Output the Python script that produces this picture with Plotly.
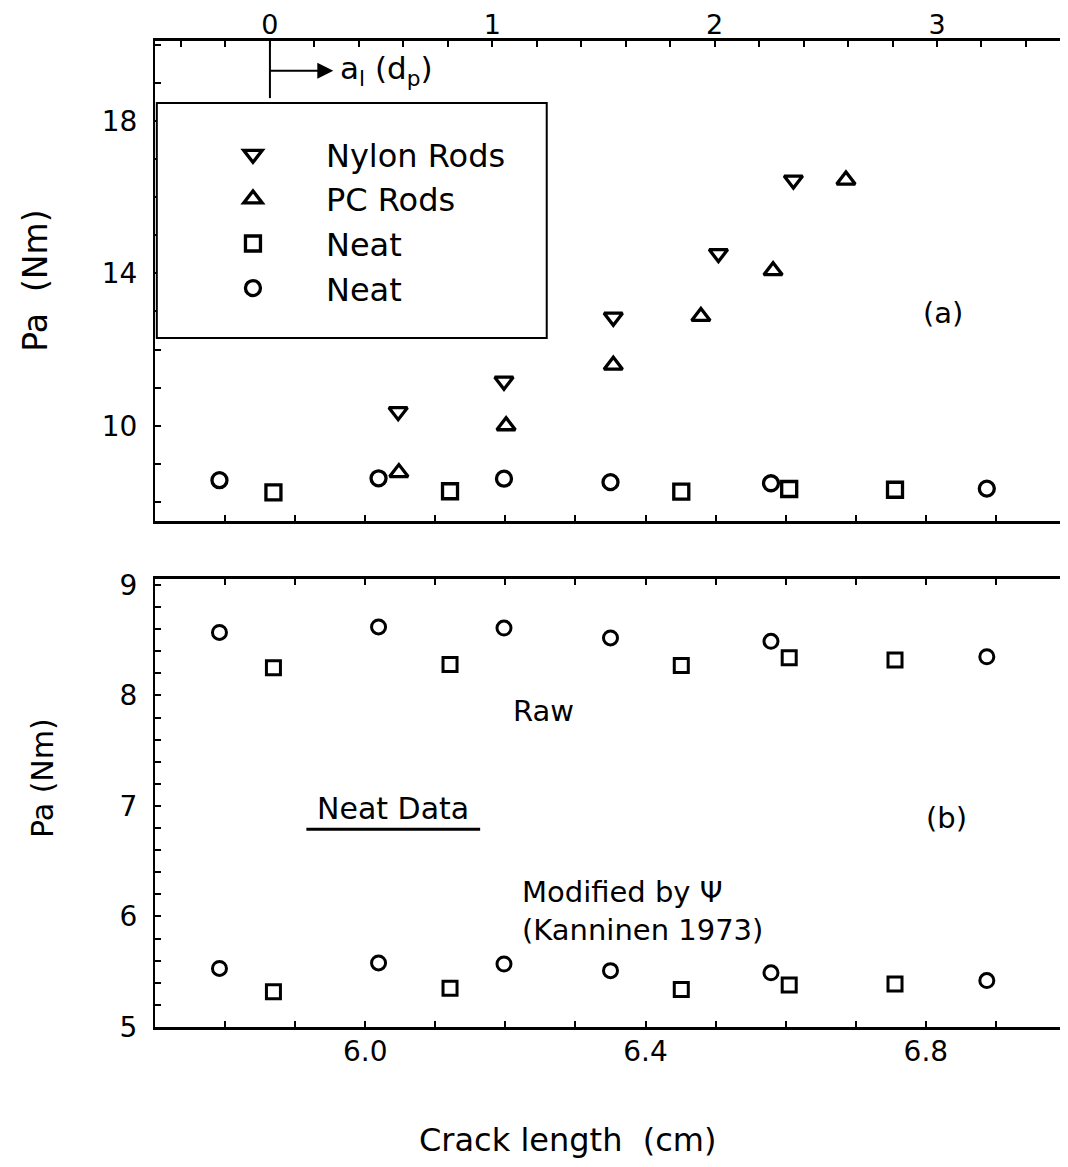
import plotly.graph_objects as go

# ---------------- data ----------------
# crack length positions (cm)
neat_circle_cm = [5.792, 6.019, 6.198, 6.350, 6.579, 6.887]
neat_square_cm = [5.869, 6.121, 6.451, 6.605, 6.756]
nylon_cm = [6.047, 6.198, 6.354, 6.504, 6.611]
pc_cm = [6.048, 6.201, 6.354, 6.479, 6.582, 6.686]

# Pa (Nm) values
nylon_pa = [10.37, 11.17, 12.85, 14.52, 16.45]
pc_pa = [8.77, 10.00, 11.59, 12.87, 14.07, 16.45]
neat_circle_raw = [8.57, 8.62, 8.61, 8.52, 8.49, 8.35]
neat_square_raw = [8.25, 8.28, 8.27, 8.34, 8.32]
neat_circle_mod = [5.53, 5.58, 5.57, 5.51, 5.49, 5.42]
neat_square_mod = [5.32, 5.35, 5.34, 5.38, 5.39]

# axis ticks (major = labelled, minor = unlabelled)
cm_major = [6.0, 6.4, 6.8]
cm_labels = ["6.0", "6.4", "6.8"]
cm_minor = [5.8, 5.9, 6.1, 6.2, 6.3, 6.5, 6.6, 6.7, 6.9]
cm_all = [5.8, 5.9, 6.0, 6.1, 6.2, 6.3, 6.4, 6.5, 6.6, 6.7, 6.8, 6.9]
dp_major = [0, 1, 2, 3]
dp_labels = ["0", "1", "2", "3"]
dp_minor = [-0.4, -0.2, 0.2, 0.4, 0.6, 0.8, 1.2, 1.4, 1.6, 1.8,
            2.2, 2.4, 2.6, 2.8, 3.2, 3.4]
pa_top_major = [10, 14, 18]
pa_top_labels = ["10", "14", "18"]
pa_top_minor = [8, 9, 11, 12, 13, 15, 16, 17, 19, 20]
pa_bot_major = [5, 6, 7, 8, 9]
pa_bot_labels = ["5", "6", "7", "8", "9"]
pa_bot_minor = [5.2, 5.4, 5.6, 5.8, 6.2, 6.4, 6.6, 6.8, 7.2, 7.4, 7.6, 7.8,
                8.2, 8.4, 8.6, 8.8]

# relation between crack length (cm) and a_l (d_p)
dp_origin_cm = 5.864
dp_unit_cm = 0.3173
cm_range = [5.7, 7.0]
dp_range = [(v - dp_origin_cm) / dp_unit_cm for v in cm_range]

FONT = "DejaVu Sans, Liberation Sans, Arial, sans-serif"
BLACK = "black"

fig = go.Figure()


def mk(symbol, size, lw=3):
    return dict(symbol=symbol, size=size, color=BLACK,
                line=dict(color=BLACK, width=lw))


# ---- top panel ----
fig.add_trace(go.Scatter(x=nylon_cm, y=nylon_pa, mode="markers", name="Nylon Rods",
                         marker=mk("triangle-down-open", 16, 3.3), xaxis="x", yaxis="y"))
fig.add_trace(go.Scatter(x=pc_cm, y=pc_pa, mode="markers", name="PC Rods",
                         marker=mk("triangle-up-open", 16, 3.3), xaxis="x", yaxis="y"))
fig.add_trace(go.Scatter(x=neat_square_cm, y=neat_square_raw, mode="markers", name="Neat",
                         marker=mk("square-open", 15, 3.3), xaxis="x", yaxis="y"))
fig.add_trace(go.Scatter(x=neat_circle_cm, y=neat_circle_raw, mode="markers", name="Neat",
                         marker=mk("circle-open", 15, 3.3), xaxis="x", yaxis="y"))

# ---- bottom panel ----
for xs, ys, sym in [(neat_square_cm, neat_square_raw, "square-open"),
                    (neat_circle_cm, neat_circle_raw, "circle-open"),
                    (neat_square_cm, neat_square_mod, "square-open"),
                    (neat_circle_cm, neat_circle_mod, "circle-open")]:
    fig.add_trace(go.Scatter(x=xs, y=ys, mode="markers", showlegend=False,
                             marker=mk(sym, 14, 3), xaxis="x2", yaxis="y2"))

# invisible trace to activate the secondary (top) axis
fig.add_trace(go.Scatter(x=dp_range, y=[None, None], mode="markers", showlegend=False,
                         hoverinfo="skip", xaxis="x3", yaxis="y",
                         marker=dict(opacity=0)))

tickfont = dict(family=FONT, size=28, color=BLACK)
common = dict(showgrid=False, zeroline=False, showline=True, linecolor=BLACK,
              ticks="inside", ticklen=6, tickwidth=2, tickcolor=BLACK,
              tickmode="array", automargin=False)


def minor(vals):
    return dict(tickmode="array", tickvals=vals, ticks="inside", ticklen=6,
                tickwidth=2, tickcolor=BLACK, showgrid=False)


top_lo, top_hi = 0.5132, 1.0
bot_lo, bot_hi = 0.0, 0.4544

# page body adds an 8px offset; the figure is sized to compensate
fig.update_layout(
    width=1060, height=1159,
    margin=dict(l=147, r=2, t=33, b=140, autoexpand=False),
    paper_bgcolor="white", plot_bgcolor="white",
    font=dict(family=FONT, color=BLACK),
    xaxis=dict(domain=[0, 1], anchor="y", range=cm_range, tickvals=cm_all,
               showticklabels=False, linewidth=3, **common),
    xaxis3=dict(overlaying="x", side="top", anchor="y", range=dp_range,
                tickvals=dp_major, ticktext=dp_labels, linewidth=3,
                ticklabelstandoff=-7, minor=minor(dp_minor),
                tickfont=dict(family=FONT, size=27, color=BLACK), **common),
    yaxis=dict(domain=[top_lo, top_hi], anchor="x", range=[7.5, 20.1],
               tickvals=pa_top_major, ticktext=pa_top_labels, linewidth=2,
               ticklabelstandoff=10, minor=minor(pa_top_minor),
               tickfont=tickfont, **common),
    xaxis2=dict(domain=[0, 1], anchor="y2", range=cm_range, tickvals=cm_major,
                ticktext=cm_labels, linewidth=3, mirror="ticks",
                ticklabelstandoff=-3, minor=minor(cm_minor),
                tickfont=tickfont, **common),
    yaxis2=dict(domain=[bot_lo, bot_hi], anchor="x2", range=[5.0, 9.054],
                tickvals=pa_bot_major, ticktext=pa_bot_labels, linewidth=2,
                mirror="ticks", ticklabelstandoff=10, minor=minor(pa_bot_minor),
                tickfont=tickfont, **common),
    showlegend=True,
    legend=dict(x=0.0274, y=0.9128, xanchor="left", yanchor="top",
                bgcolor="rgba(0,0,0,0)", borderwidth=0,
                font=dict(family=FONT, size=32, color=BLACK),
                itemwidth=136, tracegroupgap=0, itemclick=False),
)

# legend frame
fig.add_shape(type="rect", xref="x domain", yref="y domain",
              x0=0.002, x1=0.430, y0=0.381, y1=0.871,
              line=dict(color=BLACK, width=2), fillcolor="white", layer="above")

# a_l origin marker, arrow and label (arrow head drawn at the label side)
fig.add_shape(type="line", xref="x3", yref="y", x0=0, x1=0, y0=18.6, y1=20.1,
              line=dict(color=BLACK, width=2))
fig.add_annotation(xref="x3", yref="y", axref="x3", ayref="y",
                   x=0, y=19.32, ax=0.285, ay=19.32, xanchor="left", yanchor="middle",
                   text="a<sub>l</sub> (d<sub>p</sub>)", showarrow=True,
                   arrowside="start", startarrowhead=2, startarrowsize=1.6,
                   arrowwidth=2, arrowcolor=BLACK, borderpad=6,
                   font=dict(family=FONT, size=31, color=BLACK))

# panel labels & notes
fig.add_annotation(xref="x", yref="y", x=6.825, y=12.95, text="(a)", showarrow=False,
                   font=dict(family=FONT, size=29, color=BLACK))
fig.add_annotation(xref="x2", yref="y2", x=6.829, y=6.89, text="(b)", showarrow=False,
                   font=dict(family=FONT, size=29, color=BLACK))
fig.add_annotation(xref="x2", yref="y2", x=6.255, y=7.86, text="Raw", showarrow=False,
                   font=dict(family=FONT, size=29, color=BLACK))
fig.add_annotation(xref="x2", yref="y2", x=6.04, y=6.98, text="Neat Data", showarrow=False,
                   font=dict(family=FONT, size=30, color=BLACK))
fig.add_shape(type="line", xref="x2", yref="y2", x0=5.916, x1=6.164, y0=6.79, y1=6.79,
              line=dict(color=BLACK, width=3))
fig.add_annotation(xref="x2", yref="y2", x=6.221, y=6.05, xanchor="left", align="left",
                   text="Modified by Ψ<br>(Kanninen 1973)", showarrow=False,
                   font=dict(family=FONT, size=29, color=BLACK))

# axis titles
fig.add_annotation(xref="paper", yref="paper", x=(567 - 155) / 911, y=(1019 - 1132) / 986,
                   xanchor="center", yanchor="middle",
                   text="Crack length  (cm)", showarrow=False,
                   font=dict(family=FONT, size=32, color=BLACK))
fig.add_annotation(xref="paper", yref="paper", x=-0.131, y=(top_lo + top_hi) / 2,
                   xanchor="center", yanchor="middle", textangle=-90,
                   text="Pa  (Nm)", showarrow=False,
                   font=dict(family=FONT, size=33, color=BLACK))
fig.add_annotation(xref="paper", yref="paper", x=-0.124, y=(1019 - 770) / 986,
                   xanchor="center", yanchor="middle", textangle=-90,
                   text="Pa (Nm)", showarrow=False,
                   font=dict(family=FONT, size=30, color=BLACK))

fig.write_html("out.html")
